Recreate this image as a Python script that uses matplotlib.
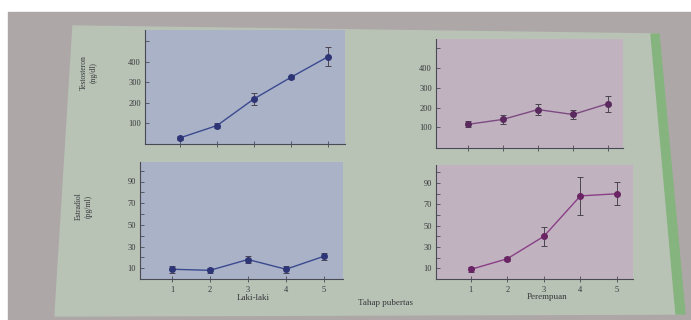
import numpy as np
import matplotlib
matplotlib.use('Agg')
import matplotlib.pyplot as plt
from matplotlib.patches import Polygon, Rectangle

# data
stages = [1, 2, 3, 4, 5]

testo_male = [30, 90, 220, 325, 425]
testo_male_err = [10, 10, 30, 8, 45]
testo_female = [115, 140, 190, 165, 220]
testo_female_err = [15, 22, 30, 22, 40]

estra_male = [9, 8, 18, 9, 21]
estra_male_err = [3, 2, 3, 3, 3]
estra_female = [9, 19, 40, 78, 80]
estra_female_err = [2, 2, 9, 18, 11]

testo_ticks = [100, 200, 300, 400, 500]
testo_labels = ['100', '200', '300', '400', '']
estra_ticks = [10, 20, 30, 40, 50, 60, 70, 80, 90, 100]
estra_labels = ['10', '', '30', '', '50', '', '70', '', '90', '']

W, H = 691, 320
plt.rcParams['font.family'] = ['Liberation Serif', 'DejaVu Serif']
TXT = '#38383c'

fig = plt.figure(figsize=(W / 100, H / 100), dpi=100, facecolor='white')

# photo background drawn in pixel coords
bg = fig.add_axes([0, 0, 1, 1], zorder=0)
bg.set_xlim(0, W)
bg.set_ylim(H, 0)
bg.axis('off')
bg.add_patch(Rectangle((8, 12), W - 8, H - 12, color='#aea7a8'))
bg.add_patch(Polygon([(73, 26), (655, 34), (682, 314), (55, 316)],
                     closed=True, color='#b8c2b5'))
bg.add_patch(Polygon([(651, 34), (659, 34), (685, 314), (676, 314)],
                     closed=True, color='#86b47f'))


def panel(box, xlim, ylim, face):
    L, T, R, B = box
    ax = fig.add_axes([L / W, 1 - B / H, (R - L) / W, (B - T) / H], zorder=2)
    ax.set_facecolor(face)
    ax.set_xlim(*xlim)
    ax.set_ylim(*ylim)
    for s in ['top', 'right']:
        ax.spines[s].set_visible(False)
    for s in ['left', 'bottom']:
        ax.spines[s].set_color('#4a4a55')
        ax.spines[s].set_linewidth(0.8)
    ax.tick_params(axis='y', direction='in', length=3, width=0.6,
                   colors='#4a4a55', labelsize=6, labelcolor=TXT, pad=3)
    ax.tick_params(axis='x', direction='inout', length=4, width=0.6,
                   colors='#4a4a55', labelsize=6, labelcolor=TXT, pad=3)
    ax.set_xticks(stages)
    return ax


def series(ax, y, err, line, mark):
    ax.errorbar(stages, y, yerr=err, color=line, lw=1.0, marker='o', ms=4,
                mfc=mark, mec=mark, ecolor='#4a4450', elinewidth=0.7,
                capsize=2.5, capthick=0.7)


blue_face = '#aab2c8'
pink_face = '#c1b2c0'

ax1 = panel((145, 30, 345, 144), (0.05, 5.46), (0, 555), blue_face)
series(ax1, testo_male, testo_male_err, '#3b4a8f', '#2e3577')
ax1.set_yticks(testo_ticks)
ax1.set_yticklabels(testo_labels)
ax1.set_xticklabels([])

ax2 = panel((436, 39, 623, 148), (0.09, 5.43), (-5, 548), pink_face)
series(ax2, testo_female, testo_female_err, '#7d4a82', '#5a2a5e')
ax2.set_yticks(testo_ticks)
ax2.set_yticklabels(testo_labels)
ax2.set_xticklabels([])

ax3 = panel((140, 162, 343, 279), (0.16, 5.5), (0, 108), blue_face)
series(ax3, estra_male, estra_male_err, '#3b4a8f', '#2e3577')
ax3.set_yticks(estra_ticks)
ax3.set_yticklabels(estra_labels)

ax4 = panel((436, 165, 633, 279), (0.05, 5.44), (0, 107), pink_face)
series(ax4, estra_female, estra_female_err, '#8a3f86', '#6a2464')
ax4.set_yticks(estra_ticks)
ax4.set_yticklabels(estra_labels)


def ftext(x, y, s, **kw):
    fig.text(x / W, 1 - y / H, s, color=TXT, ha='center', va='center', **kw)


ftext(89, 73, 'Testosteron\n(ng/dl)', fontsize=5.5, rotation=90, linespacing=1.3)
ftext(84, 206, 'Estradiol\n(pg/ml)', fontsize=5.5, rotation=90, linespacing=1.3)
ftext(253, 298, 'Laki-laki', fontsize=6.5)
ftext(547, 297, 'Perempuan', fontsize=6.5)
ftext(385, 303, 'Tahap pubertas', fontsize=6.5)

fig.savefig('out.png', dpi=100, facecolor='white')
